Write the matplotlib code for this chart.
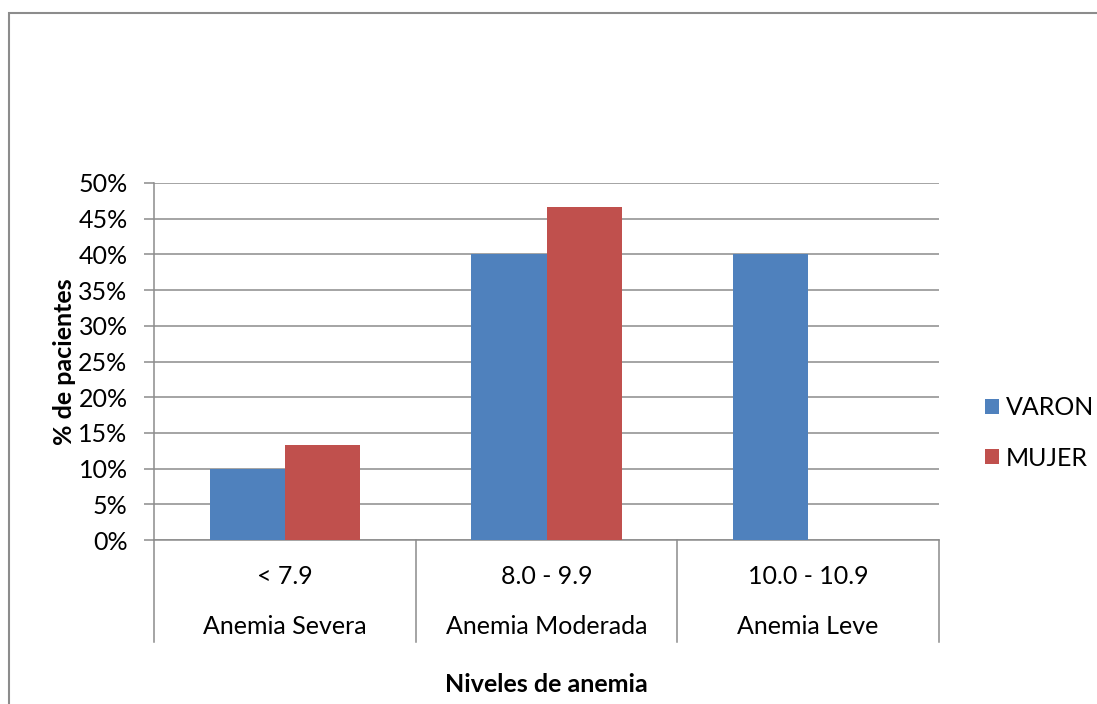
import matplotlib
matplotlib.use("Agg")
import matplotlib.pyplot as plt
from matplotlib.patches import Rectangle
import numpy as np

rangos = ["< 7.9", "8.0 - 9.9", "10.0 - 10.9"]
niveles = ["Anemia Severa", "Anemia Moderada", "Anemia Leve"]
varon = [0.10, 0.40, 0.40]
mujer = [0.133, 0.467, 0.0]
series = ["VARON", "MUJER"]
yticks = [0, 0.05, 0.10, 0.15, 0.20, 0.25, 0.30, 0.35, 0.40, 0.45, 0.50]

plt.rcParams['font.family'] = ['Lato', 'DejaVu Sans']
W, H = 1097, 704
fs = 18
fig = plt.figure(figsize=(W / 100, H / 100), dpi=100)
ax = fig.add_axes([154 / W, (H - 540) / H, (939 - 154) / W, (540 - 183) / H])

grid_c = "#8c8c8c"
x = np.arange(len(rangos))
bw = 0.287
ax.bar(x - bw / 2, varon, bw, color="#4F81BD", label=series[0], zorder=3)
ax.bar(x + bw / 2, mujer, bw, color="#C0504D", label=series[1], zorder=3)

ax.set_xlim(-0.5, 2.5)
ax.set_ylim(0, 0.5)
ax.set_yticks(yticks)
ax.set_yticklabels(["%d%%" % round(v * 100) for v in yticks], fontsize=fs)
ax.yaxis.grid(True, color=grid_c, lw=1.1, zorder=0)
ax.tick_params(axis="y", length=7, color=grid_c, width=1.1, pad=12)
ax.set_xticks([])
for s in ["top", "right"]:
    ax.spines[s].set_visible(False)
for s in ["left", "bottom"]:
    ax.spines[s].set_color(grid_c)
    ax.spines[s].set_linewidth(1.1)

tr = ax.get_xaxis_transform()
depth = (642 - 540) / (540 - 183)
for xs in [-0.5, 0.5, 1.5, 2.5]:
    ax.plot([xs, xs], [0, -depth], color=grid_c, lw=1.1, transform=tr, clip_on=False)
for i in range(len(rangos)):
    ax.text(x[i], -(577 - 540) / 357, rangos[i], transform=tr, ha="center", va="center", fontsize=fs)
    ax.text(x[i], -(627 - 540) / 357, niveles[i], transform=tr, ha="center", va="center", fontsize=fs)

ax.set_ylabel("% de pacientes", fontsize=fs, fontweight="bold", labelpad=2)
fig.text(546 / W, 1 - 684 / H, "Niveles de anemia", fontsize=fs, fontweight="bold", ha="center", va="center")

leg = fig.legend(loc="center left", bbox_to_anchor=(985 / W, 1 - 433 / H), frameon=False, borderpad=0,
                 borderaxespad=0, fontsize=fs, handlelength=0.55, handleheight=0.55, handletextpad=0.3,
                 labelspacing=1.1)

fig.add_artist(Rectangle((9 / W, -0.1), 1.2, 1.1 - 13 / H, transform=fig.transFigure,
                         fill=False, edgecolor="#8c8c8c", lw=1.5))

fig.savefig("out.png", dpi=100)
